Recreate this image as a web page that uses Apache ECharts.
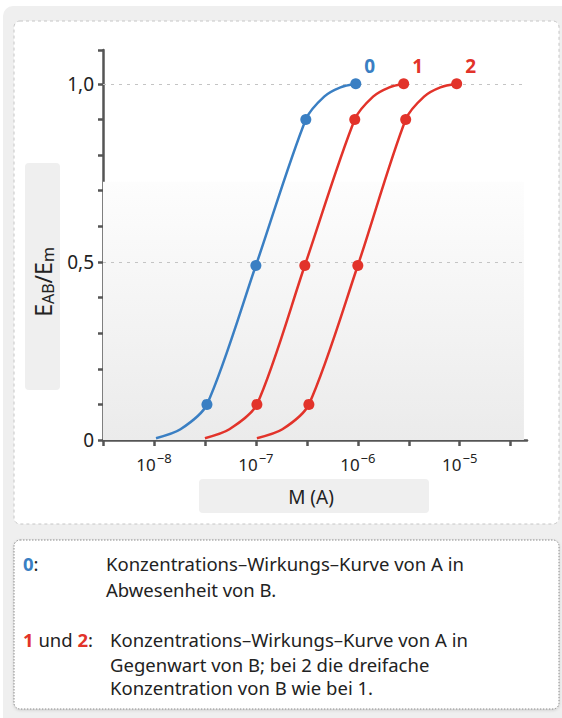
<!DOCTYPE html>
<html><head><meta charset="utf-8">
<script src="https://cdn.jsdelivr.net/npm/echarts@6/dist/echarts.min.js"></script>
<style>html,body{margin:0;padding:0;background:#fff;}#c{width:562px;height:718px;}</style>
</head><body><div id="c"></div>
<script>
// ---- data (x = log10 of molar concentration M(A), y = E_AB/E_m) ----
const curveNames = ['0', '1', '2'];
const curveColors = ['#3a7fc3', '#e2332a', '#e2332a'];
const logM0 = [-7.98, -7.74, -7.48, -7.0, -6.51, -6.33, -6.17, -6.02];
const eff0  = [0.005, 0.03, 0.1, 0.49, 0.9, 0.964, 0.99, 1.0];
const logM1 = [-7.5, -7.26, -6.99, -6.52, -6.03, -5.85, -5.69, -5.55];
const eff1  = [0.005, 0.03, 0.1, 0.49, 0.9, 0.964, 0.99, 1.0];
const logM2 = [-6.99, -6.74, -6.48, -6.0, -5.53, -5.35, -5.19, -5.03];
const eff2  = [0.005, 0.03, 0.1, 0.49, 0.9, 0.964, 0.99, 1.0];
const dotFlags = [false, false, true, true, true, false, false, true];
const xTickValues = [-8.5, -8, -7.5, -7, -6.5, -6, -5.5, -5, -4.5];
const xLabelValues = [-8, -7, -6, -5];
const yLabelValues = [0, 0.5, 1];
const yLabelTexts = ['0', '0,5', '1,0'];
const gridLineValues = [0.5, 1.0];
const xAxisTitle = 'M (A)';

const FONT = '"Noto Sans", sans-serif';
const TXT = '#222';
const chart = echarts.init(document.getElementById('c'), null, {renderer: 'svg'});

function buildSeries(xs, ys, name, color, withGrid) {
  const data = xs.map((x, i) => {
    const item = {value: [x, ys[i]]};
    if (!dotFlags[i]) item.symbol = 'none';
    if (i === xs.length - 1) {
      item.label = {show: true, position: 'right', offset: [-2, -18], formatter: name,
        color: color, fontSize: 19, fontWeight: 'bold', fontFamily: FONT};
    }
    return item;
  });
  const s = {
    type: 'line', name: name, data: data, smooth: 0.28,
    symbol: 'circle', symbolSize: 11, showSymbol: true, showAllSymbol: true,
    lineStyle: {color: color, width: 2.5}, itemStyle: {color: color},
    z: 5, animation: false
  };
  if (withGrid) {
    s.markLine = {
      silent: true, symbol: 'none', label: {show: false}, animation: false,
      lineStyle: {type: [3, 5], color: '#c4c4c4', width: 1.2},
      data: gridLineValues.map(v => [{coord: [-8.5, v]}, {coord: [-4.34, v]}])
    };
    s.markArea = {
      silent: true, animation: false,
      itemStyle: {color: new echarts.graphic.LinearGradient(0, 0, 0, 1, [
        {offset: 0, color: '#fdfdfd'}, {offset: 1, color: '#ebebeb'}])},
      data: [[{coord: [-8.5, 0.725]}, {coord: [-4.37, 0]}]]
    };
  }
  return s;
}

const option = {
  animation: false,
  backgroundColor: '#ffffff',
  grid: {left: 103, top: 50, right: 35, bottom: 278, containLabel: false},
  xAxis: {
    type: 'value', min: -8.5, max: -4.34,
    axisLine: {lineStyle: {color: '#555', width: 2.5}},
    axisTick: {show: true, length: 6, customValues: xTickValues, lineStyle: {color: '#555', width: 2.5}},
    splitLine: {show: false},
    axisLabel: {
      customValues: xLabelValues, margin: 9, color: TXT, fontFamily: FONT,
      formatter: v => '{b|10}{s|−' + Math.abs(Math.round(v)) + '}',
      rich: {
        b: {fontSize: 17, color: TXT, fontFamily: FONT, padding: [7, 0, 0, 0]},
        s: {fontSize: 13, color: TXT, fontFamily: FONT, padding: [0, 0, 7, 1]}
      }
    }
  },
  yAxis: {
    type: 'value', min: 0, max: 1.095, interval: 0.1,
    axisLine: {show: true, lineStyle: {color: '#555', width: 2.5}},
    axisTick: {show: true, length: 5, lineStyle: {color: '#555', width: 2.5}},
    splitLine: {show: false},
    axisLabel: {
      customValues: yLabelValues, margin: 9, color: TXT, fontSize: 19, fontFamily: FONT,
      formatter: v => yLabelTexts[yLabelValues.indexOf(Math.round(v * 10) / 10)]
    }
  },
  series: [
    buildSeries(logM0, eff0, curveNames[0], curveColors[0], true),
    buildSeries(logM1, eff1, curveNames[1], curveColors[1], false),
    buildSeries(logM2, eff2, curveNames[2], curveColors[2], false)
  ],
  graphic: [
    {type: 'rect', z: -10, shape: {x: 3, y: 6, width: 570, height: 730, r: 10}, style: {fill: '#efefef'}},
    {type: 'rect', z: -9, shape: {x: 14, y: 21, width: 545, height: 503, r: 6},
      style: {fill: '#ffffff', stroke: '#c6c6c6', lineWidth: 1, lineDash: [3, 3]}},
    {type: 'rect', z: -9, shape: {x: 25, y: 163, width: 35, height: 227, r: 4}, style: {fill: '#efefef'}},
    {type: 'text', z: 10, x: 43, y: 282, rotation: Math.PI / 2,
      style: {text: '{n|E}{s|AB}{n|/E}{s|m}', align: 'center', verticalAlign: 'middle',
        rich: {n: {fontSize: 23, fill: TXT, fontFamily: FONT},
               s: {fontSize: 16, fill: TXT, fontFamily: FONT, padding: [10, 0, 0, 0]}}}},
    {type: 'rect', z: -9, shape: {x: 199, y: 479, width: 230, height: 34, r: 4}, style: {fill: '#efefef'}},
    {type: 'text', z: 10, x: 311, y: 497,
      style: {text: xAxisTitle, align: 'center', verticalAlign: 'middle', fontSize: 19, fill: TXT, fontFamily: FONT}},
    {type: 'rect', z: -9, shape: {x: 14, y: 540, width: 545, height: 169, r: 6},
      style: {fill: '#ffffff', stroke: '#8a8a8a', lineWidth: 1, lineDash: [1.5, 1.5],
        shadowBlur: 3, shadowColor: 'rgba(0,0,0,0.15)', shadowOffsetY: 1}},
    {type: 'text', x: 23, y: 563, style: {text: '{b|0}{t|:}', verticalAlign: 'middle',
      rich: {b: {fill: '#3a7fc3', fontWeight: 'bold', fontSize: 18.5, fontFamily: FONT},
             t: {fill: TXT, fontSize: 18.5, fontFamily: FONT}}}},
    {type: 'text', x: 106, y: 563, style: {text: 'Konzentrations–Wirkungs–Kurve von A in', verticalAlign: 'middle', fontSize: 18.5, fill: TXT, fontFamily: FONT}},
    {type: 'text', x: 106, y: 589, style: {text: 'Abwesenheit von B.', verticalAlign: 'middle', fontSize: 18.5, fill: TXT, fontFamily: FONT}},
    {type: 'text', x: 23, y: 639, style: {text: '{r|1}{t| und }{r|2}{t|:}', verticalAlign: 'middle',
      rich: {r: {fill: '#e2332a', fontWeight: 'bold', fontSize: 18.5, fontFamily: FONT},
             t: {fill: TXT, fontSize: 18.5, fontFamily: FONT}}}},
    {type: 'text', x: 110, y: 639, style: {text: 'Konzentrations–Wirkungs–Kurve von A in', verticalAlign: 'middle', fontSize: 18.5, fill: TXT, fontFamily: FONT}},
    {type: 'text', x: 110, y: 664, style: {text: 'Gegenwart von B; bei 2 die dreifache', verticalAlign: 'middle', fontSize: 18.5, fill: TXT, fontFamily: FONT}},
    {type: 'text', x: 110, y: 687, style: {text: 'Konzentration von B wie bei 1.', verticalAlign: 'middle', fontSize: 18.5, fill: TXT, fontFamily: FONT}}
  ]
};
chart.setOption(option);
</script>
</body></html>
